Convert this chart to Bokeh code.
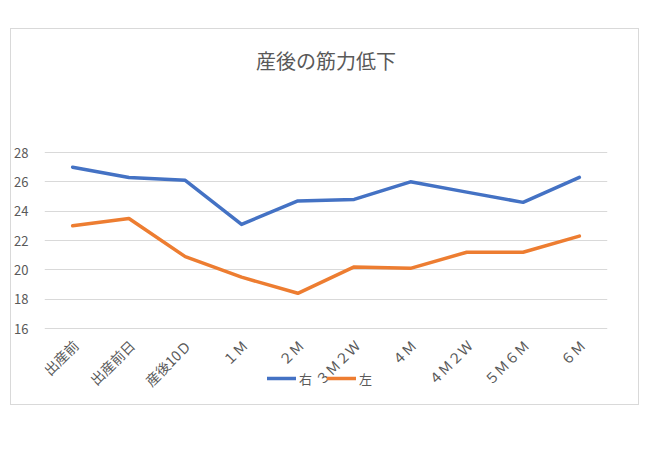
import math
from bokeh.plotting import figure
from bokeh.models import Range1d, FactorRange, Legend, LegendItem, FixedTicker
from bokeh.core.properties import value
from bokeh.embed import file_html
from bokeh.resources import INLINE

categories = ["出産前", "出産前日", "産後10Ｄ", "１Ｍ", "２Ｍ", "３Ｍ２Ｗ", "４Ｍ", "４Ｍ２Ｗ", "５Ｍ６Ｍ", "６Ｍ"]
right_vals = [27.0, 26.3, 26.1, 23.1, 24.7, 24.8, 26.0, 25.3, 24.6, 26.3]
left_vals = [23.0, 23.5, 20.9, 19.5, 18.4, 20.2, 20.1, 21.2, 21.2, 22.3]
y_ticks = [16, 18, 20, 22, 24, 26, 28]
series_names = ["右", "左"]

FONT = "Noto Sans CJK JP"
GRAY = "#595959"

# frame extends above and below the value axis; category labels and legend share the lower area
plot_px, above_px, below_px = 176, 64, 76
y_top = y_ticks[-1]
y_base = y_ticks[0]
px_per_unit = plot_px / (y_top - y_base)
range_top = y_top + above_px / px_per_unit
range_bottom = y_base - below_px / px_per_unit

p = figure(x_range=FactorRange(*categories, range_padding=0), y_range=Range1d(range_bottom, range_top),
           frame_width=563, frame_height=plot_px + above_px + below_px,
           output_backend="svg", toolbar_location=None,
           min_border_left=32, min_border_right=31, min_border_top=59, min_border_bottom=0,
           title="産後の筋力低下")
p.styles = {"border": "1px solid #d9d9d9", "margin-top": "28px", "margin-left": "10px"}
p.outline_line_color = None
p.background_fill_color = "white"
p.border_fill_color = "white"

p.title.text_font = FONT
p.title.text_font_size = "20px"
p.title.text_font_style = "normal"
p.title.text_color = GRAY
p.title.align = "center"
p.title.standoff = 27

r1 = p.line(categories, right_vals, line_color="#4472C4", line_width=3.5, line_join="round", line_cap="round")
r2 = p.line(categories, left_vals, line_color="#ED7D31", line_width=3.5, line_join="round", line_cap="round")

# category labels under the axis, rotated 45°
p.text(x=categories, y=[y_base] * len(categories), text=categories, angle=math.pi / 4,
       text_align="right", text_baseline="middle", x_offset=3, y_offset=14,
       text_font=value(FONT), text_font_size="14px", text_color=GRAY)

p.yaxis.ticker = FixedTicker(ticks=y_ticks)
p.ygrid.ticker = FixedTicker(ticks=y_ticks)
p.xgrid.grid_line_color = None
p.ygrid.grid_line_color = "#d9d9d9"
p.ygrid.grid_line_width = 1
p.xaxis.visible = False

ax = p.yaxis[0]
ax.major_tick_line_color = None
ax.minor_tick_line_color = None
ax.major_label_text_font = FONT
ax.major_label_text_font_size = "13px"
ax.major_label_text_color = GRAY
ax.axis_line_color = None
ax.major_label_standoff = 10

legend = Legend(items=[LegendItem(label=series_names[0], renderers=[r1]),
                       LegendItem(label=series_names[1], renderers=[r2])],
                orientation="horizontal", location=(223, 16),
                label_text_font=FONT, label_text_font_size="13px", label_text_color=GRAY,
                glyph_width=29, label_standoff=3, spacing=8, padding=2,
                border_line_color=None, background_fill_alpha=0)
p.add_layout(legend, "center")

open("out.html", "w").write(file_html(p, INLINE))
